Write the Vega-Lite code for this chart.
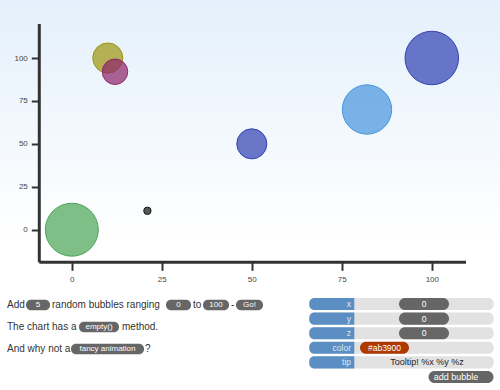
{
  "$schema": "https://vega.github.io/schema/vega-lite/v6.json",
  "width": 500,
  "height": 390,
  "autosize": {"type": "fit", "contains": "padding"},
  "padding": 0,
  "background": "#ffffff",
  "config": {"view": {"stroke": null}, "font": "Liberation Sans", "text": {"font": "Liberation Sans"}},
  "resolve": {"scale": {"x": "independent", "y": "independent"}},
  "layer": [
    {
      "data": {"values": [{}]},
      "mark": {
        "type": "rect",
        "fill": {"gradient": "linear", "x1": 0, "y1": 0, "x2": 0, "y2": 1,
          "stops": [{"offset": 0, "color": "#e4f0fb"}, {"offset": 0.62, "color": "#ffffff"}, {"offset": 1, "color": "#ffffff"}]}
      },
      "encoding": {}
    },
    {
      "data": {"values": [
        {"id": "A", "x": 0, "y": 0, "z": 99},
        {"id": "B", "x": 10, "y": 100, "z": 55},
        {"id": "C", "x": 12, "y": 92, "z": 46},
        {"id": "D", "x": 21, "y": 11, "z": 0},
        {"id": "E", "x": 50, "y": 50, "z": 55},
        {"id": "F", "x": 82, "y": 70, "z": 92},
        {"id": "G", "x": 100, "y": 100, "z": 100}
      ]},
      "layer": [
        {
          "data": {"values": [{}]},
          "mark": {"type": "rule", "color": "#333333", "strokeWidth": 3},
          "encoding": {
            "x": {"datum": -9.03, "type": "quantitative", "scale": {"domain": [-19.944, 118.944], "nice": false, "zero": false}},
            "y": {"datum": -18.99, "type": "quantitative", "scale": {"domain": [-93.36, 133.78], "nice": false, "zero": false}},
            "y2": {"datum": 119.8}
          }
        },
        {
          "data": {"values": [{}]},
          "mark": {"type": "rule", "color": "#333333", "strokeWidth": 3},
          "encoding": {
            "x": {"datum": -9.03, "type": "quantitative"},
            "x2": {"datum": 109.5},
            "y": {"datum": -18.99, "type": "quantitative"}
          }
        },
        {
          "mark": {"type": "circle", "fillOpacity": 0.7, "strokeOpacity": 0.95, "strokeWidth": 1},
          "encoding": {
            "x": {"field": "x", "type": "quantitative",
              "axis": {"values": [0, 25, 50, 75, 100], "offset": -127.7, "zindex": 1, "domain": false, "grid": false, "tickSize": 8, "tickWidth": 2, "tickColor": "#333333", "labelFontSize": 8, "labelColor": "#444444", "labelPadding": 5, "labelFlush": false, "title": null}},
            "y": {"field": "y", "type": "quantitative",
              "axis": {"values": [0, 25, 50, 75, 100], "offset": -39.3, "zindex": 1, "domain": false, "grid": false, "tickSize": 8, "tickWidth": 2, "tickColor": "#333333", "labelFontSize": 8, "labelColor": "#444444", "labelPadding": 4, "title": null}},
            "size": {"field": "z", "type": "quantitative", "scale": {"type": "pow", "exponent": 2, "domain": [0, 100], "range": [55, 2865]}, "legend": null},
            "color": {"field": "id", "type": "nominal", "scale": {"domain": ["A", "B", "C", "D", "E", "F", "G"], "range": ["#48a254", "#9b940c", "#8d2269", "#111111", "#2d3eb0", "#4594db", "#2d3eb0"]}, "legend": null},
            "stroke": {"field": "id", "type": "nominal", "scale": {"domain": ["A", "B", "C", "D", "E", "F", "G"], "range": ["#48a254", "#9b940c", "#8d2269", "#111111", "#2d3eb0", "#4594db", "#2d3eb0"]}, "legend": null}
          }
        }
      ]
    },
    {
      "data": {"values": [{}]},
      "encoding": {
        "x": {"datum": 0, "type": "quantitative", "scale": {"domain": [0, 100], "nice": false, "zero": false}, "axis": null},
        "y": {"datum": 1, "type": "quantitative", "scale": {"domain": [-12.864, 4.864], "reverse": true, "nice": false, "zero": false}, "axis": null}
      },
      "layer": [
        {"mark": {"type": "text", "text": "Add", "align": "left", "baseline": "middle", "fontSize": 10, "color": "#333333"}, "encoding": {"x": {"datum": 1.4}, "y": {"datum": 1}}},
        {"mark": {"type": "text", "text": "random bubbles ranging", "align": "left", "baseline": "middle", "fontSize": 10, "color": "#333333"}, "encoding": {"x": {"datum": 10.4}, "y": {"datum": 1}}},
        {"mark": {"type": "text", "text": "to", "align": "left", "baseline": "middle", "fontSize": 10, "color": "#333333"}, "encoding": {"x": {"datum": 38.6}, "y": {"datum": 1}}},
        {"mark": {"type": "text", "text": "-", "align": "left", "baseline": "middle", "fontSize": 10, "color": "#333333"}, "encoding": {"x": {"datum": 46.2}, "y": {"datum": 1}}},
        {"mark": {"type": "text", "text": "The chart has a", "align": "left", "baseline": "middle", "fontSize": 10, "color": "#333333"}, "encoding": {"x": {"datum": 1.4}, "y": {"datum": 2}}},
        {"mark": {"type": "text", "text": "method.", "align": "left", "baseline": "middle", "fontSize": 10, "color": "#333333"}, "encoding": {"x": {"datum": 24.4}, "y": {"datum": 2}}},
        {"mark": {"type": "text", "text": "And why not a", "align": "left", "baseline": "middle", "fontSize": 10, "color": "#333333"}, "encoding": {"x": {"datum": 1.4}, "y": {"datum": 3}}},
        {"mark": {"type": "text", "text": "?", "align": "left", "baseline": "middle", "fontSize": 10, "color": "#333333"}, "encoding": {"x": {"datum": 29.0}, "y": {"datum": 3}}},

        {"mark": {"type": "rect", "fill": "#666666", "cornerRadius": 5}, "encoding": {"x": {"datum": 5.2}, "x2": {"datum": 10.0}, "y": {"datum": 0.76}, "y2": {"datum": 1.24}}},
        {"mark": {"type": "text", "text": "5", "align": "center", "baseline": "middle", "fontSize": 8, "color": "#ffffff"}, "encoding": {"x": {"datum": 7.6}, "y": {"datum": 1}}},
        {"mark": {"type": "rect", "fill": "#666666", "cornerRadius": 5}, "encoding": {"x": {"datum": 33.2}, "x2": {"datum": 38.2}, "y": {"datum": 0.76}, "y2": {"datum": 1.24}}},
        {"mark": {"type": "text", "text": "0", "align": "center", "baseline": "middle", "fontSize": 8, "color": "#ffffff"}, "encoding": {"x": {"datum": 35.7}, "y": {"datum": 1}}},
        {"mark": {"type": "rect", "fill": "#666666", "cornerRadius": 5}, "encoding": {"x": {"datum": 40.6}, "x2": {"datum": 45.8}, "y": {"datum": 0.76}, "y2": {"datum": 1.24}}},
        {"mark": {"type": "text", "text": "100", "align": "center", "baseline": "middle", "fontSize": 8, "color": "#ffffff"}, "encoding": {"x": {"datum": 43.2}, "y": {"datum": 1}}},
        {"mark": {"type": "rect", "fill": "#666666", "cornerRadius": 5}, "encoding": {"x": {"datum": 47.2}, "x2": {"datum": 52.6}, "y": {"datum": 0.76}, "y2": {"datum": 1.24}}},
        {"mark": {"type": "text", "text": "Go!", "align": "center", "baseline": "middle", "fontSize": 8, "color": "#ffffff"}, "encoding": {"x": {"datum": 49.9}, "y": {"datum": 1}}},
        {"mark": {"type": "rect", "fill": "#666666", "cornerRadius": 5}, "encoding": {"x": {"datum": 15.8}, "x2": {"datum": 23.8}, "y": {"datum": 1.76}, "y2": {"datum": 2.24}}},
        {"mark": {"type": "text", "text": "empty()", "align": "center", "baseline": "middle", "fontSize": 8, "color": "#ffffff"}, "encoding": {"x": {"datum": 19.8}, "y": {"datum": 2}}},
        {"mark": {"type": "rect", "fill": "#666666", "cornerRadius": 5}, "encoding": {"x": {"datum": 14.2}, "x2": {"datum": 28.8}, "y": {"datum": 2.76}, "y2": {"datum": 3.24}}},
        {"mark": {"type": "text", "text": "fancy animation", "align": "center", "baseline": "middle", "fontSize": 8, "color": "#ffffff"}, "encoding": {"x": {"datum": 21.5}, "y": {"datum": 3}}}
      ]
    },
    {
      "data": {"values": [
        {"field": "x", "value": "0"},
        {"field": "y", "value": "0"},
        {"field": "z", "value": "0"},
        {"field": "color", "value": "#ab3900"},
        {"field": "tip", "value": "Tooltip! %x %y %z"},
        {"field": "button", "value": "add bubble"}
      ]},
      "encoding": {
        "y": {"field": "field", "type": "nominal", "scale": {"type": "band", "domain": ["x", "y", "z", "color", "tip", "button"], "range": [298, 383], "paddingInner": 0.17, "paddingOuter": 0}, "axis": null},
        "x": {"datum": 0, "type": "quantitative", "scale": {"domain": [0, 100], "nice": false, "zero": false}, "axis": null}
      },
      "layer": [
        {"transform": [{"filter": "datum.field !== 'button'"}], "mark": {"type": "rect", "fill": "#e2e2e2", "cornerRadius": 5}, "encoding": {"x": {"datum": 61.86}, "x2": {"datum": 98.7}}},
        {"transform": [{"filter": "datum.field !== 'button'"}], "mark": {"type": "rect", "fill": "#5b8ec3", "cornerRadiusTopLeft": 5, "cornerRadiusBottomLeft": 5}, "encoding": {"x": {"datum": 61.86}, "x2": {"datum": 70.86}}},
        {"transform": [{"filter": "datum.field !== 'button'"}], "mark": {"type": "text", "align": "right", "baseline": "middle", "fontSize": 8.5, "color": "#dfe8f3"}, "encoding": {"x": {"datum": 70.2}, "text": {"field": "field"}}},
        {"transform": [{"filter": "indexof(['x','y','z'], datum.field) >= 0"}], "mark": {"type": "rect", "fill": "#666666", "cornerRadius": 6}, "encoding": {"x": {"datum": 79.8}, "x2": {"datum": 89.8}}},
        {"transform": [{"filter": "indexof(['x','y','z'], datum.field) >= 0"}], "mark": {"type": "text", "align": "center", "baseline": "middle", "fontSize": 8.5, "color": "#ffffff"}, "encoding": {"x": {"datum": 84.8}, "text": {"field": "value"}}},
        {"transform": [{"filter": "datum.field === 'color'"}], "mark": {"type": "rect", "fill": "#ab3900", "cornerRadius": 6}, "encoding": {"x": {"datum": 72.0}, "x2": {"datum": 81.8}}},
        {"transform": [{"filter": "datum.field === 'color'"}], "mark": {"type": "text", "align": "center", "baseline": "middle", "fontSize": 8.5, "color": "#ffffff"}, "encoding": {"x": {"datum": 76.9}, "text": {"field": "value"}}},
        {"transform": [{"filter": "datum.field === 'tip'"}], "mark": {"type": "text", "align": "center", "baseline": "middle", "fontSize": 9, "color": "#222222"}, "encoding": {"x": {"datum": 85.4}, "text": {"field": "value"}}},
        {"transform": [{"filter": "datum.field === 'button'"}], "mark": {"type": "rect", "fill": "#666666", "cornerRadius": 6}, "encoding": {"x": {"datum": 85.7}, "x2": {"datum": 98.7}}},
        {"transform": [{"filter": "datum.field === 'button'"}], "mark": {"type": "text", "align": "center", "baseline": "middle", "fontSize": 9, "color": "#ffffff"}, "encoding": {"x": {"datum": 91.2}, "text": {"field": "value"}}}
      ]
    }
  ]
}
